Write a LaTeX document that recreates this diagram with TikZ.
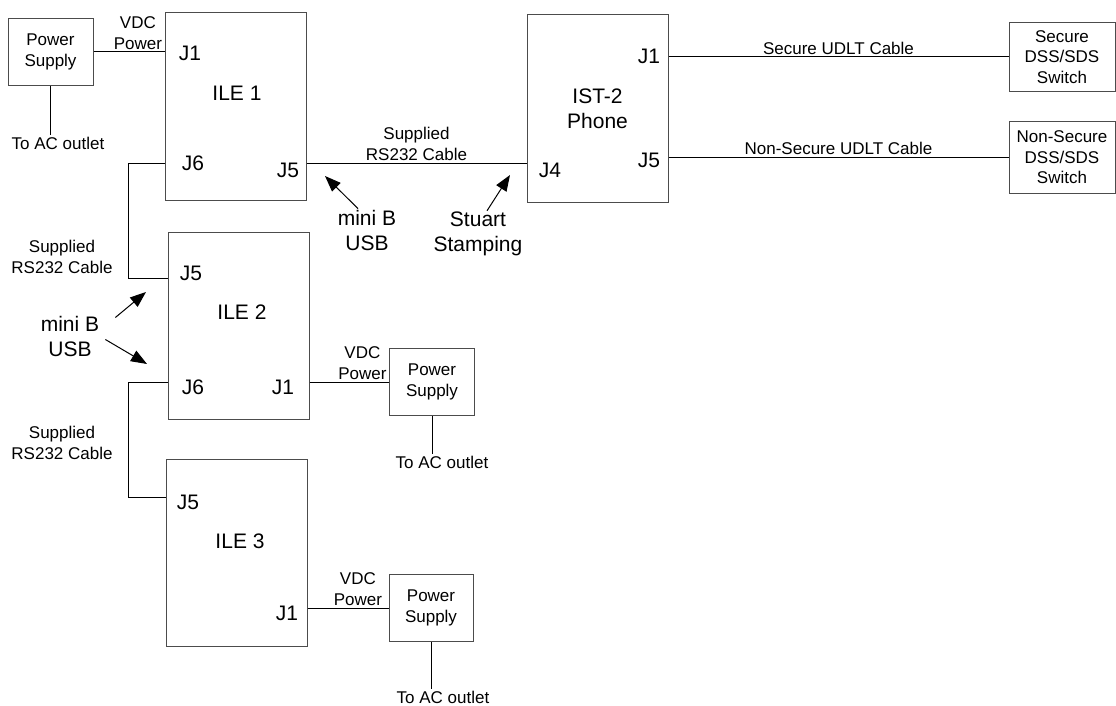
\documentclass[tikz,border=0pt]{standalone}
\usepackage{fontspec}
\setmainfont{Liberation Sans}
\usetikzlibrary{arrows.meta,calc,positioning}
\newcommand\bigtxt{\fontsize{21}{25}\selectfont}
\newcommand\smalltxt{\fontsize{17}{20.5}\selectfont}
\tikzset{
  unit box/.style={draw=black!70,line width=1pt,minimum width=141pt,minimum height=187pt,inner sep=0pt},
  psu box/.style={draw=black!70,line width=1pt,minimum width=85pt,minimum height=67pt,inner sep=0pt,align=center,font=\smalltxt},
  switch box/.style={draw=black!70,line width=1pt,minimum width=106pt,minimum height=69pt,inner sep=0pt,align=center,font=\smalltxt},
  port label/.style={font=\bigtxt,inner sep=1pt,align=center},
  cable label/.style={font=\smalltxt,inner sep=2pt,align=center},
  cable/.style={line width=1pt},
  pointer/.style={-{Triangle[length=16pt,width=12pt]},line width=1pt},
}

\begin{document}
\begin{tikzpicture}[x=1pt,y=-1pt]
  \useasboundingbox (0,0) rectangle (1116,706);
  % boxes
  \node[unit box] (ile1) at (235.5,106.5) {};
  \node[unit box] (ile2) at (238.5,326) {};
  \node[unit box] (ile3) at (236.5,552.5) {};
  \node[unit box,font=\bigtxt,align=center] (ist) at (597.5,108.5) {IST-2\\Phone};
  \node[psu box] (ps1) at (50.5,52) {Power\\Supply};
  \node[psu box] (ps2) at (432,382) {Power\\Supply};
  \node[psu box,minimum width=84pt] (ps3) at (431,608) {Power\\Supply};
  \node[switch box] (sec) at (1062,57) {Secure\\DSS/SDS\\Switch};
  \node[switch box,minimum height=71pt] (nsec) at (1062,157.5) {Non-Secure\\DSS/SDS\\Switch};
  % labels inside the units
  \node[port label] (ile1n) at (237,93) {ILE 1};
  \node[port label] (ile1j1) at (190,53) {J1};
  \node[port label] (ile1j6) at (193,163) {J6};
  \node[port label] (ile1j5) at (288,170) {J5};
  \node[port label] (ile2n) at (242,312) {ILE 2};
  \node[port label] (ile2j5) at (191,273) {J5};
  \node[port label] (ile2j6) at (193,387) {J6};
  \node[port label] (ile2j1) at (283,387) {J1};
  \node[port label] (ile3n) at (240,541) {ILE 3};
  \node[port label] (ile3j5) at (188,502) {J5};
  \node[port label] (ile3j1) at (287,613) {J1};
  \node[port label] (istj1) at (649,56) {J1};
  \node[port label] (istj5) at (649,160) {J5};
  \node[port label] (istj4) at (550,170) {J4};
  % outlet texts
  \node[cable label] (ac1) at (58,143) {To AC outlet};
  \node[cable label] (ac2) at (442,462) {To AC outlet};
  \node[cable label] (ac3) at (443,697) {To AC outlet};
  \node[cable label] (rs1) at (62,257) {Supplied\\RS232 Cable};
  \node[cable label] (rs2) at (62,443) {Supplied\\RS232 Cable};
  % callouts
  \node[port label] (usb1) at (367,230) {mini B\\USB};
  \node[port label] (stamp) at (478,234) {Stuart\\Stamping};
  \node[port label] (usb2) at (70,336.5) {mini B\\USB};
  \coordinate (usb1tip) at (325,176);
  \coordinate (stamptip) at (510,175);
  \coordinate (usb2tipa) at (146,292);
  \coordinate (usb2tipb) at (147,364);
  % power cables
  \draw[cable] (ps1.east) -- (ps1.east -| ile1.west) node[cable label,pos=1,above left] {VDC\\Power};
  \draw[cable] (ile2.east |- ps2.west) -- (ps2.west) node[cable label,pos=1,above left] {VDC\\Power};
  \draw[cable] (ile3.east |- ps3.west) -- (ps3.west) node[cable label,pos=1,above left,xshift=-4pt] {VDC\\Power};
  \draw[cable] (ps1.south) -- (ps1.south |- ac1.north);
  \draw[cable] (ps2.south) -- (ps2.south |- ac2.north);
  \draw[cable] (ps3.south) -- (ps3.south |- ac3.north);
  % serial cables
  \draw[cable] (ile1.west |- 0,163) -- ++(-36,0) |- (ile2.west |- 0,278);
  \draw[cable] (ile2.west |- 0,382) -- ++(-39,0) |- (ile3.west |- 0,497);
  \draw[cable] (ile1.east |- 0,163) -- (ist.west |- 0,163) node[cable label,midway,above] {Supplied\\RS232 Cable};
  % UDLT cables
  \draw[cable] (ist.east |- sec.west) -- (sec.west) node[cable label,midway,above] {Secure UDLT Cable};
  \draw[cable] (ist.east |- nsec.west) -- (nsec.west) node[cable label,midway,above] {Non-Secure UDLT Cable};
  % arrows
  \draw[pointer] ($(usb1.north)+(-9,0)$) -- (usb1tip);
  \draw[pointer] ($(stamp.north)+(9,0)$) -- (stamptip);
  \draw[pointer] ($(usb2.east)+(15,-19)$) -- (usb2tipa);
  \draw[pointer] ($(usb2.east)+(5,3)$) -- (usb2tipb);
\end{tikzpicture}
\end{document}
